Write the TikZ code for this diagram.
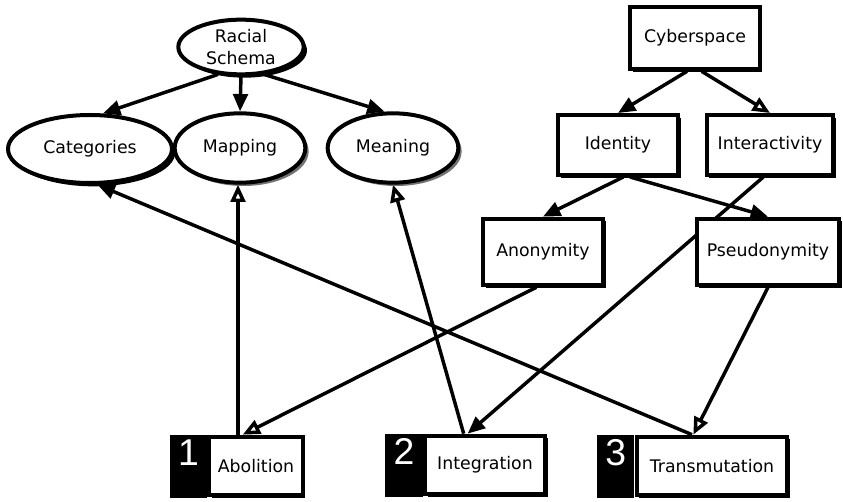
\documentclass[tikz,border=0pt]{standalone}
\usepackage{fontspec}
\setsansfont{DejaVu Sans}
\newfontfamily\numfont{Liberation Sans}
\usetikzlibrary{arrows.meta,shapes.geometric,shadows,backgrounds}

\tikzstyle{ovalbase}=[ellipse,draw,line width=3pt,fill=white,inner sep=0pt,align=center,font=\sffamily\fontsize{13}{16}\selectfont]
\tikzstyle{oval}=[ovalbase,drop shadow={shadow xshift=2.5pt,shadow yshift=-2.5pt,fill=black,opacity=1}]
\tikzstyle{greyoval}=[ovalbase,drop shadow={shadow xshift=2.5pt,shadow yshift=-2.5pt,fill=black!55,opacity=1}]
\tikzstyle{box}=[rectangle,draw,line width=3pt,fill=white,inner sep=2pt,font=\sffamily\fontsize{13}{16}\selectfont,drop shadow={shadow xshift=2pt,shadow yshift=-2pt,fill=black,opacity=1}]
\tikzstyle{numtag}=[rectangle,fill=black,text=white,font=\numfont\fontsize{28}{28}\selectfont,minimum width=28pt,inner sep=3pt,text height=20pt,text depth=21.5pt,anchor=north east]
\tikzstyle{fedge}=[line width=2.6pt,-{Triangle[length=13pt,width=11pt]}]
\tikzstyle{oedge}=[line width=2.6pt,-{Triangle[open,length=13pt,width=11pt]}]

\begin{document}
\begin{tikzpicture}[x=0.75pt,y=-0.75pt]
        \useasboundingbox (0,0) rectangle (843,502);
        % racial schema side
        \draw (241,47) node[oval,minimum width=94pt,minimum height=41pt](rs){Racial\\Schema};
        \draw (90,149) node[oval,minimum width=123pt,minimum height=51pt](cat){Categories};
        \draw (240,148) node[greyoval,minimum width=98pt,minimum height=52pt](map){Mapping};
        \draw (393,148) node[greyoval,minimum width=98pt,minimum height=52pt](mea){Meaning};
        % cyberspace side
        \draw (695,38) node[box,minimum width=97pt,minimum height=47pt](cyb){Cyberspace};
        \draw (618,145) node[box,minimum width=90pt,minimum height=45pt](ide){Identity};
        \draw (770,145) node[box,minimum width=95pt,minimum height=45pt](int){Interactivity};
        \draw (543,252) node[box,minimum width=90pt,minimum height=50pt](ano){Anonymity};
        \draw (768,252) node[box,minimum width=107pt,minimum height=50pt](pse){Pseudonymity};
        % numbered outcomes
        \draw (256,466) node[box,minimum width=70pt,minimum height=44pt](abo){Abolition};
        \draw (485,465) node[box,minimum width=90pt,minimum height=44pt](ing){Integration};
        \draw (712,466) node[box,minimum width=113pt,minimum height=44pt](tra){Transmutation};
        \node[numtag] (n1) at (abo.north west) {1};
        \node[numtag] (n2) at (ing.north west) {2};
        \node[numtag] (n3) at (tra.north west) {3};
        %
        \begin{pgfonlayer}{background}
        \path
            (rs.230)                 edge[fedge]     (cat.70)
            (rs.south)               edge[fedge]     (map.north)
            (rs.310)                 edge[fedge]     (mea.103)
            ([xshift=-6pt]cyb.south) edge[fedge]     (ide.north)
            ([xshift=5pt]cyb.south)  edge[oedge]     (int.north)
            ([xshift=4pt]ide.south)  edge[fedge]     (ano.north)
            ([xshift=9pt]ide.south)  edge[fedge]     (pse.north)
            ([xshift=-5pt]int.south) edge[fedge]     ([xshift=-13pt]ing.north)
            ([xshift=-5pt]ano.south) edge[oedge]     ([xshift=-10pt]abo.north)
            (pse.south)              edge[oedge]     ([xshift=-14pt]tra.north)
            ([xshift=-13.5pt]abo.north) edge[oedge]  ([xshift=-1.5pt]map.south)
            ([xshift=-16pt]ing.north) edge[oedge]    (mea.south)
            ([xshift=-15pt]tra.north) edge[fedge]    (cat.-78)
        ;
        \end{pgfonlayer}
        %;
\end{tikzpicture}
\end{document}
